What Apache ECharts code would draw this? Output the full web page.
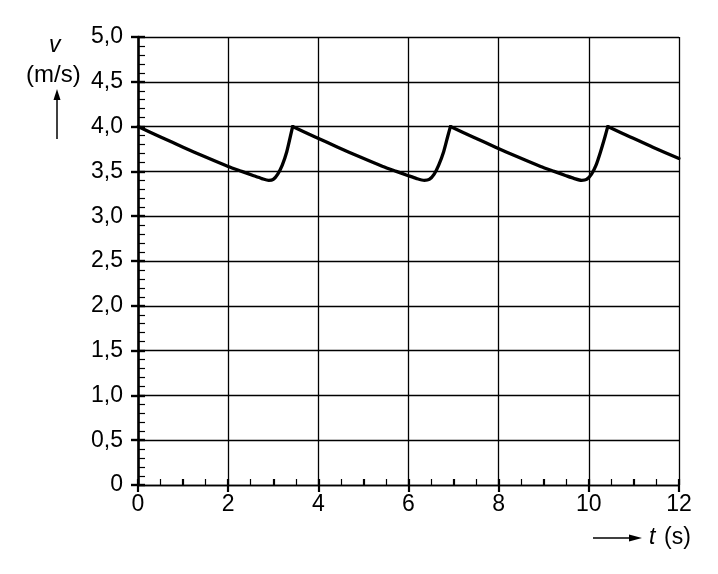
<!DOCTYPE html>
<html>
<head>
<meta charset="utf-8">
<script src="https://cdn.jsdelivr.net/npm/echarts@6/dist/echarts.min.js"></script>
<style>
  html, body { margin: 0; padding: 0; background: #fff; }
  #chart { width: 718px; height: 574px; }
</style>
</head>
<body>
<div id="chart"></div>
<script>
// v(t), one array pair per cycle (peak -> dip -> peak)
const cycle1T = [0, 0.5, 1.0, 1.5, 2.0, 2.3, 2.55, 2.75, 2.9, 3.0, 3.1, 3.2, 3.3, 3.38, 3.43];
const cycle1V = [4.0, 3.885, 3.77, 3.66, 3.555, 3.50, 3.455, 3.42, 3.40, 3.41, 3.47, 3.57, 3.72, 3.89, 4.0];
const cycle2T = [3.43, 3.93, 4.43, 4.93, 5.43, 5.73, 5.98, 6.18, 6.35, 6.46, 6.57, 6.67, 6.78, 6.87, 6.93];
const cycle2V = [4.0, 3.885, 3.77, 3.66, 3.555, 3.50, 3.455, 3.42, 3.40, 3.41, 3.47, 3.57, 3.72, 3.89, 4.0];
const cycle3T = [6.93, 7.43, 7.93, 8.43, 8.93, 9.23, 9.48, 9.68, 9.84, 9.95, 10.06, 10.16, 10.26, 10.36, 10.42];
const cycle3V = [4.0, 3.885, 3.77, 3.66, 3.555, 3.50, 3.455, 3.42, 3.40, 3.41, 3.47, 3.57, 3.72, 3.89, 4.0];
const tailT = [10.42, 10.92, 11.42, 12.0];
const tailV = [4.0, 3.885, 3.77, 3.645];

const xTicks = [0, 2, 4, 6, 8, 10, 12];
const yTicks = ['0', '0,5', '1,0', '1,5', '2,0', '2,5', '3,0', '3,5', '4,0', '4,5', '5,0'];

const FONT = '"Liberation Sans", Arial, sans-serif';
const pairs = (ts, vs) => ts.map((t, i) => [t, vs[i]]);

const chart = echarts.init(document.getElementById('chart'), null, { renderer: 'canvas' });

const curve = (ts, vs) => ({
  type: 'line',
  xAxisIndex: 0,
  yAxisIndex: 0,
  data: pairs(ts, vs),
  showSymbol: false,
  smooth: 0.25,
  lineStyle: { color: '#000', width: 3.3, cap: 'round', join: 'round' },
  animation: false,
  z: 5
});

chart.setOption({
  backgroundColor: '#fff',
  animation: false,
  grid: { left: 138, right: 39, top: 37, bottom: 89 },
  xAxis: [
    {
      type: 'value', min: 0, max: 12, interval: 2, position: 'bottom',
      axisLine: { show: true, lineStyle: { color: '#000', width: 1.3 } },
      axisTick: { show: true, inside: false, length: 7, lineStyle: { color: '#000', width: 2.2 } },
      axisLabel: {
        color: '#000', fontFamily: FONT, fontSize: 23, margin: 8,
        formatter: v => (xTicks.includes(v) ? String(v) : '')
      },
      splitLine: { show: true, lineStyle: { color: '#000', width: 1.3 } }
    },
    {
      type: 'value', min: 0, max: 12, interval: 1, position: 'bottom',
      axisLine: { show: false },
      axisTick: { show: true, inside: true, length: 6, lineStyle: { color: '#000', width: 2.2 } },
      minorTick: { show: true, splitNumber: 2, length: 6, lineStyle: { color: '#000', width: 1.2 } },
      axisLabel: { show: false },
      splitLine: { show: false }
    }
  ],
  yAxis: [
    {
      type: 'value', min: 0, max: 5, interval: 0.5, position: 'left',
      axisLine: { show: true, lineStyle: { color: '#000', width: 2.6 } },
      axisTick: { show: true, inside: false, length: 7, lineStyle: { color: '#000', width: 2.4 } },
      axisLabel: {
        color: '#000', fontFamily: FONT, fontSize: 23, margin: 15,
        formatter: v => yTicks[Math.round(v / 0.5)] || ''
      },
      splitLine: { show: true, lineStyle: { color: '#000', width: 1.3 } }
    },
    {
      type: 'value', min: 0, max: 5, interval: 0.5, position: 'left',
      axisLine: { show: false },
      axisTick: { show: true, inside: true, length: 7, lineStyle: { color: '#000', width: 2.4 } },
      minorTick: { show: true, splitNumber: 5, length: 7, lineStyle: { color: '#000', width: 1.2 } },
      axisLabel: { show: false },
      splitLine: { show: false }
    }
  ],
  graphic: [
    { type: 'text', left: 49, top: 34, style: { text: 'v', font: 'italic 23px ' + FONT, fill: '#000' } },
    { type: 'text', left: 26, top: 63, style: { text: '(m/s)', font: '24px ' + FONT, fill: '#000' } },
    { type: 'line', shape: { x1: 57, y1: 139, x2: 57, y2: 97 }, style: { stroke: '#000', lineWidth: 1.5 } },
    { type: 'polygon', shape: { points: [[57, 89], [53.5, 100], [60.5, 100]] }, style: { fill: '#000' } },
    { type: 'line', shape: { x1: 593, y1: 538, x2: 632, y2: 538 }, style: { stroke: '#000', lineWidth: 1.5 } },
    { type: 'polygon', shape: { points: [[642, 538], [629, 534.5], [629, 541.5]] }, style: { fill: '#000' } },
    { type: 'text', left: 649, top: 526, style: { text: 't', font: 'italic 23px ' + FONT, fill: '#000' } },
    { type: 'text', left: 664, top: 526, style: { text: '(s)', font: '23px ' + FONT, fill: '#000' } }
  ],
  series: [
    curve(cycle1T, cycle1V),
    curve(cycle2T, cycle2V),
    curve(cycle3T, cycle3V),
    curve(tailT, tailV)
  ]
});
</script>
</body>
</html>
